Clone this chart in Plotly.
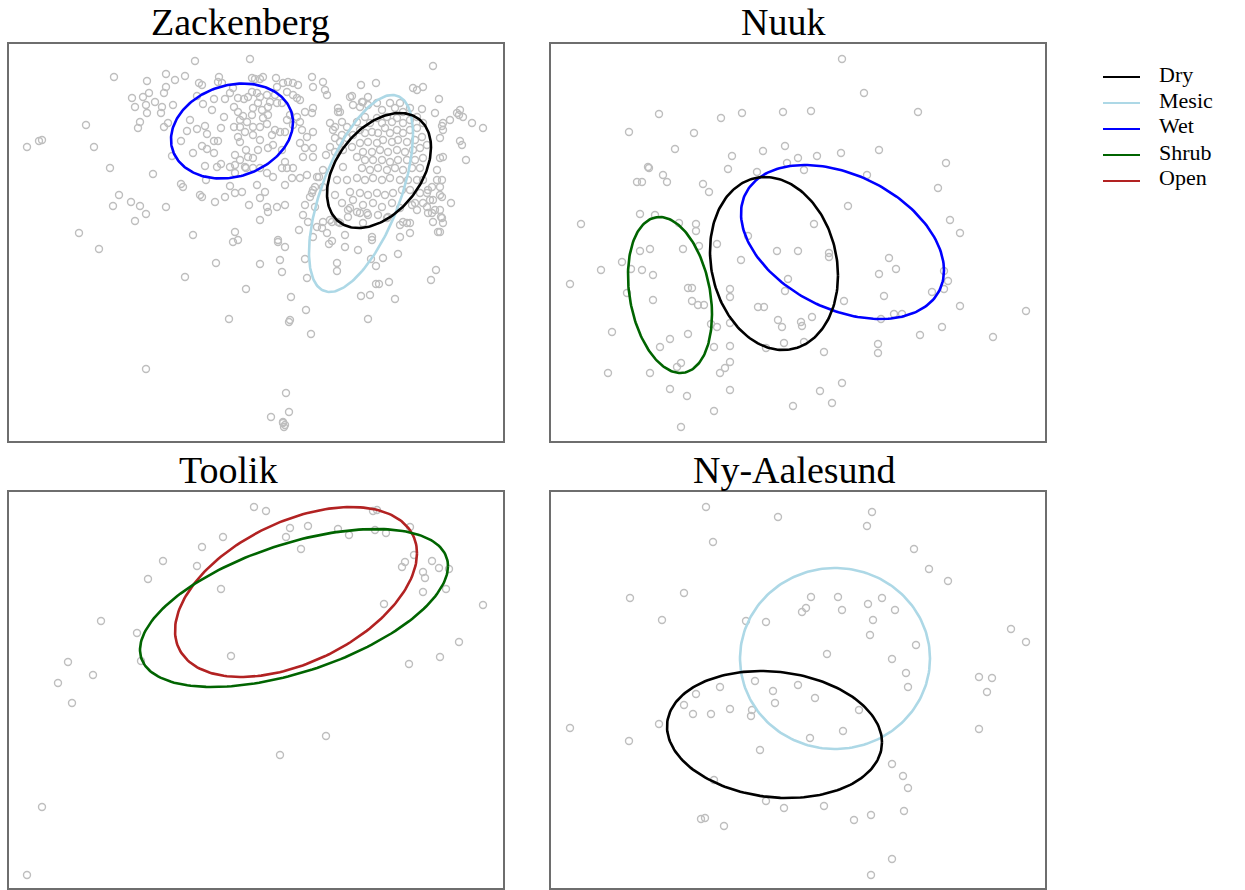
import numpy as np
import plotly.graph_objects as go

# ---------------------------------------------------------------------------
# NMDS site scores (NMDS1, NMDS2) for each study area
# ---------------------------------------------------------------------------
zack_scores = [
    (-0.61, 1.81), (-0.06, 1.83), (-1.42, 1.65), (-0.90, 1.68), (-0.71, 1.66), (-0.81, 1.62),
    (-1.09, 1.61), (-0.57, 1.59), (-0.37, 1.65), (-0.38, 1.60), (-0.04, 1.64), (-0.90, 1.55),
    (-0.92, 1.49), (-1.07, 1.49), (-1.13, 1.45), (-1.24, 1.44), (-1.01, 1.40), (-1.21, 1.35),
    (-1.10, 1.37), (-0.94, 1.35), (-0.95, 1.29), (-0.83, 1.37), (-1.09, 1.29), (-1.70, 1.17),
    (-1.16, 1.20), (-1.18, 1.14), (-0.92, 1.15), (-0.88, 1.19), (-2.29, 0.95), (-2.17, 1.01),
    (-2.14, 1.02), (-1.62, 0.95), (-1.46, 0.74), (-1.03, 0.68), (-0.75, 0.58), (-0.73, 0.55),
    (-1.37, 0.47), (-1.43, 0.36), (-1.25, 0.40), (-1.16, 0.36), (-0.90, 0.35), (-1.10, 0.28),
    (-1.21, 0.21), (-0.56, 0.47), (-0.54, 0.45), (-0.41, 0.40), (-0.31, 0.45), (-0.14, 0.50),
    (-0.07, 0.37), (-0.26, 0.56), (-0.50, 0.62), (-1.77, 0.09), (-0.63, 0.07), (-0.21, 0.10),
    (-0.23, 0.00), (-0.84, 0.86),
    (-0.66, 1.22), (-0.69, 1.11), (-0.59, 1.13), (-0.51, 1.16), (-0.49, 1.08), (-0.75, 1.01),
    (-0.63, 0.89), (-0.54, 0.96), (-0.49, 0.93), (-0.42, 1.01), (-0.38, 1.01), (-0.42, 0.89),
    (-0.51, 0.76), (-0.39, 0.75), (-0.35, 0.78), (-0.21, 0.87), (-0.21, 0.69), (-0.10, 0.74),
    (-0.35, 1.14), (-0.32, 1.25), (-0.44, 1.32), (-0.53, 1.38), (-0.59, 1.46), (-0.42, 1.43),
    (-0.31, 1.43), (-0.22, 1.35), (-0.12, 1.43), (-0.08, 1.45), (-0.18, 1.30), (-0.13, 1.26),
    (-0.22, 1.15), (-0.16, 1.15), (-0.18, 1.05), (-0.16, 1.00), (-0.10, 0.92), (-0.08, 0.85),
    (-0.16, 1.22), (-0.09, 1.20), (-0.11, 1.10), (-0.03, 1.07), (-0.03, 1.15), (-0.04, 1.27),
    (-0.03, 1.34), (-0.18, 1.44), (-0.26, 1.49), (-0.04, 1.50), (0.01, 1.49), (0.02, 1.39),
    (0.06, 1.32), (0.07, 1.24), (0.04, 1.15), (0.04, 1.02), (0.02, 0.92), (-0.03, 0.84),
    (-0.16, 0.82), (-0.21, 0.77), (-0.26, 0.75), (-0.11, 0.75), (-0.03, 0.74), (0.04, 0.74),
    (-0.54, 1.57), (-0.34, 1.59), (-0.23, 1.54), (-0.21, 0.49),
    (0.20, 1.64), (0.07, 1.65), (0.04, 1.63), (-0.01, 1.63), (0.27, 1.59), (0.32, 1.60),
    (0.37, 1.59), (0.42, 1.57), (0.56, 1.65), (0.57, 1.55), (0.21, 1.55), (0.19, 1.47),
    (0.31, 1.50), (0.37, 1.47), (0.44, 1.42), (0.41, 1.44), (0.26, 1.39), (0.21, 1.39),
    (0.12, 1.35), (0.04, 1.45), (0.11, 1.47), (0.14, 1.40), (0.57, 1.34), (0.49, 1.30),
    (0.56, 1.29), (0.34, 1.27), (0.31, 1.22), (0.41, 1.25), (0.44, 1.20), (0.37, 1.17),
    (0.12, 1.27), (0.11, 1.18), (0.19, 1.12), (0.24, 1.10), (0.29, 1.10), (0.16, 1.07),
    (0.57, 1.10), (0.46, 1.12), (0.51, 1.05), (0.44, 0.99), (0.49, 0.94), (0.57, 0.94),
    (0.26, 0.92), (0.17, 0.97), (0.12, 0.94), (0.47, 0.85), (0.57, 0.85), (0.29, 0.80),
    (0.26, 0.74), (0.31, 0.74), (0.37, 0.74), (0.11, 0.69), (0.17, 0.65), (0.29, 0.57),
    (0.36, 0.64), (0.44, 0.64), (0.51, 0.67), (0.61, 0.65), (0.01, 0.57), (0.09, 0.50),
    (0.04, 0.44), (0.29, 0.37), (0.21, 0.35), (0.56, 0.49), (0.57, 0.52), (0.11, 0.35),
    (0.12, 0.30), (0.04, 0.22),
    (1.77, 1.76), (1.20, 1.59), (1.05, 1.57), (0.67, 1.60), (0.69, 1.52), (0.71, 1.47),
    (1.57, 1.54), (1.61, 1.52), (1.67, 1.55), (1.83, 1.43), (0.96, 1.46), (1.12, 1.45),
    (1.07, 1.40), (1.04, 1.35), (0.82, 1.34), (0.84, 1.30), (1.66, 1.33), (1.79, 1.29),
    (1.94, 1.22), (2.04, 1.32), (2.03, 1.27), (2.07, 1.25), (2.16, 1.19), (2.27, 1.14),
    (1.86, 1.16), (1.87, 1.12), (1.84, 1.04), (2.04, 1.01), (2.06, 0.97), (2.10, 0.82),
    (1.87, 0.85), (1.84, 0.84), (0.74, 1.19), (0.77, 1.12), (0.86, 1.07), (0.79, 1.04),
    (0.74, 0.95), (0.70, 0.87), (0.67, 0.72), (0.63, 0.65), (0.67, 0.55), (0.59, 0.55),
    (0.54, 0.45), (0.49, 0.37), (0.47, 0.27), (0.52, 0.20), (0.66, 0.14), (0.76, 0.20),
    (0.82, 0.20), (0.94, 0.34), (0.86, 0.39), (0.92, 0.25), (1.04, 0.29), (1.11, 0.29),
    (1.22, 0.27), (1.31, 0.24), (1.47, 0.20), (1.54, 0.19), (1.59, 0.39), (1.67, 0.39),
    (1.77, 0.42), (1.86, 0.45), (1.95, 0.39), (1.84, 0.32), (1.76, 0.29), (1.77, 0.20),
    (1.85, 0.25), (1.84, 0.10), (1.71, 0.35), (1.61, 0.32), (1.81, 0.62), (1.84, 0.55),
    (1.76, 0.55), (1.67, 0.62), (1.71, 0.49), (1.64, 0.49), (0.43, 0.12), (0.59, 0.35),
    (0.57, 0.05), (0.71, 0.09), (0.22, 0.02),
    (2.01, 1.29), (1.87, 1.19), (1.81, 0.72), (1.86, 0.62), (1.84, 0.47), (1.72, 0.52),
    (1.74, 0.42), (1.79, 0.32), (1.86, 0.24), (1.87, 0.19), (1.82, 0.10), (1.72, 0.29),
    (1.56, 0.37), (1.51, 0.19), (1.44, 0.17),
    (0.94, 1.45), (0.97, 1.37), (1.06, 1.40), (1.12, 1.37), (1.21, 1.39), (1.26, 1.32),
    (1.34, 1.39), (1.39, 1.34), (1.44, 1.39), (1.47, 1.30), (1.54, 1.34), (0.82, 1.30),
    (0.86, 1.20), (0.79, 1.15), (0.91, 1.15), (1.01, 1.20), (1.09, 1.25), (1.14, 1.19),
    (1.21, 1.24), (1.26, 1.19), (1.31, 1.25), (1.36, 1.20), (1.41, 1.24), (1.47, 1.19),
    (1.54, 1.22), (1.61, 1.25), (1.67, 1.19), (1.61, 1.14), (1.54, 1.12), (1.47, 1.09),
    (1.41, 1.12), (1.34, 1.09), (1.29, 1.14), (1.22, 1.09), (1.16, 1.10), (1.09, 1.09),
    (1.04, 1.12), (0.97, 1.07), (0.91, 1.04), (0.84, 1.00), (0.79, 0.90), (0.87, 0.92),
    (0.96, 0.95), (1.04, 0.99), (1.12, 1.00), (1.21, 0.99), (1.27, 1.02), (1.36, 1.00),
    (1.42, 1.02), (1.51, 1.00), (1.59, 1.02), (1.66, 1.05), (1.71, 0.97), (1.64, 0.94),
    (1.57, 0.92), (1.49, 0.90), (1.41, 0.92), (1.32, 0.90), (1.24, 0.92), (1.16, 0.90),
    (1.07, 0.90), (1.01, 0.85), (1.09, 0.82), (1.17, 0.82), (1.26, 0.82), (1.34, 0.80),
    (1.42, 0.82), (1.51, 0.82), (1.59, 0.82), (1.67, 0.84), (1.64, 0.74), (1.56, 0.74),
    (1.47, 0.72), (1.39, 0.74), (1.31, 0.72), (1.22, 0.74), (1.14, 0.72), (1.06, 0.74),
    (0.87, 0.75), (0.81, 0.62), (0.91, 0.62), (1.01, 0.64), (1.09, 0.62), (1.17, 0.64),
    (1.26, 0.62), (1.34, 0.64), (1.44, 0.62), (1.52, 0.62), (1.61, 0.62), (1.54, 0.52),
    (1.46, 0.52), (1.37, 0.49), (1.29, 0.47), (1.21, 0.49), (1.12, 0.47), (1.04, 0.49),
    (0.94, 0.50), (0.79, 0.47), (0.97, 0.42), (1.07, 0.37), (1.17, 0.39), (1.26, 0.35),
    (1.36, 0.39), (1.44, 0.34), (1.01, 0.30), (0.92, 0.32), (1.12, 0.27), (1.32, 0.25),
    (1.07, 0.19), (0.74, 0.22), (0.84, 0.19), (0.67, 0.20), (0.61, 0.15), (0.89, 0.07),
    (1.16, 0.05), (1.44, 0.05), (1.54, 0.09),
    (0.22, 0.00), (0.29, -0.05), (0.04, -0.22), (0.24, -0.18), (0.26, -0.30), (0.49, -0.17),
    (0.51, -0.36), (0.73, -0.02), (0.76, 0.01), (0.89, -0.05), (1.02, -0.08), (1.16, 0.02),
    (0.81, -0.21), (0.81, -0.29), (1.15, -0.17), (1.27, -0.16), (1.20, -0.24), (1.42, -0.12),
    (1.33, -0.40), (1.20, -0.42), (1.23, -0.42), (1.05, -0.54), (1.14, -0.53), (1.39, -0.57),
    (1.80, -0.28), (1.75, -0.38), (0.35, -0.55), (0.50, -0.68), (0.34, -0.78), (0.33, -0.80),
    (1.12, -0.77), (0.55, -0.92), (0.30, -1.51), (0.15, -1.75), (0.33, -1.70), (0.27, -1.81),
    (0.28, -1.85), (0.27, -1.80), (0.29, -1.83),
    (-1.57, -0.07), (-0.40, -0.21), (-0.71, -0.35), (-0.10, -0.47), (-0.27, -0.77),
    (-1.10, -1.27), (-0.18, 0.02),
]

nuuk_scores = [
    (-1.39, 1.28), (-0.77, 1.24), (-0.56, 1.29), (-0.15, 1.30), (-1.69, 1.10), (-1.04, 1.09),
    (-1.23, 0.93), (-0.13, 0.96), (-0.35, 0.91), (-0.66, 0.86), (0.00, 0.84), (-0.70, 0.73),
    (-1.50, 0.75), (-1.49, 0.74), (-1.35, 0.67), (-1.61, 0.60), (-1.56, 0.60), (-1.31, 0.60),
    (-0.95, 0.58), (-0.89, 0.50), (-0.41, 0.70), (-0.11, 0.79), (-1.58, 0.28), (-1.43, 0.27),
    (-1.19, 0.19), (-1.02, 0.18), (-1.02, 0.11), (-2.17, 0.18), (-0.99, -0.04), (-0.81, -0.02),
    (-1.15, -0.07), (-1.58, -0.09), (-1.48, -0.07), (-0.50, 0.06), (-0.21, -0.09), (0.00, -0.09),
    (-0.57, -0.18), (-1.76, -0.20), (-1.97, -0.28), (-1.67, -0.27), (-1.56, -0.28), (-1.45, -0.33),
    (-2.28, -0.42), (-0.10, -0.37), (-0.13, -0.49), (-1.71, -0.51), (-1.10, -0.46), (-1.06, -0.46),
    (-0.68, -0.47), (-0.68, -0.55), (-1.45, -0.58), (-1.06, -0.59), (-1.00, -0.63), (-0.94, -0.63),
    (-0.40, -0.65), (-0.34, -0.65), (-0.20, -0.78), (-0.16, -0.85), (-0.68, -0.81), (-0.87, -0.82),
    (-0.81, -0.85), (-1.86, -0.90), (-1.10, -0.92), (-1.28, -0.97), (-1.38, -1.05), (-0.84, -1.05),
    (-0.68, -1.04), (-0.14, -1.01), (-0.32, -1.06), (-1.17, -1.21), (-1.21, -1.25), (-0.68, -1.20),
    (-0.73, -1.26), (-0.78, -1.31), (-1.90, -1.31), (-1.48, -1.31), (-1.28, -1.47), (-1.11, -1.54),
    (-0.68, -1.48), (-0.84, -1.69), (-0.05, -1.64), (-1.17, -1.85),
    (0.44, 1.83), (0.66, 1.49), (0.13, 1.31), (1.20, 1.30), (0.81, 0.92), (0.43, 0.89),
    (0.19, 0.86), (0.06, 0.72), (1.48, 0.79), (0.69, 0.67), (1.40, 0.54), (0.50, 0.36),
    (1.52, 0.22), (1.62, 0.09), (0.16, 0.18), (0.31, -0.11), (0.31, -0.15), (0.91, -0.16),
    (0.98, -0.27), (0.81, -0.32), (1.46, -0.29), (1.50, -0.39), (1.46, -0.47), (1.34, -0.50),
    (0.86, -0.54), (0.46, -0.59), (1.62, -0.64), (2.28, -0.69), (0.96, -0.72), (1.04, -0.72),
    (0.83, -0.77), (0.14, -0.75), (0.03, -0.80), (0.04, -0.84), (1.44, -0.85), (1.22, -0.93),
    (1.95, -0.95), (0.80, -1.02), (0.80, -1.11), (0.06, -1.00), (0.26, -1.10), (0.44, -1.41),
    (0.22, -1.49), (0.34, -1.61),
]

toolik_scores = [
    (-0.02, 1.83), (0.10, 1.79), (0.34, 1.62), (0.52, 1.64), (0.30, 1.53), (0.45, 1.41),
    (0.82, 1.61), (0.93, 1.55), (1.17, 1.79), (1.21, 1.80), (1.19, 1.60), (1.30, 1.57),
    (1.54, 1.63), (1.58, 1.35), (1.49, 1.28), (1.46, 1.23), (1.76, 1.29), (1.67, 1.18),
    (1.69, 1.12), (1.83, 1.22), (1.93, 1.21), (1.90, 1.01), (1.67, 0.98), (1.28, 0.86),
    (2.27, 0.85), (2.03, 0.48), (1.84, 0.33), (1.53, 0.26), (-0.33, 1.53), (-0.54, 1.43),
    (-0.59, 1.24), (-0.93, 1.29), (-1.08, 1.11), (-0.35, 1.01), (-1.55, 0.69), (-1.19, 0.57),
    (-1.15, 0.29), (-0.25, 0.34), (-1.88, 0.28), (-1.63, 0.15), (-1.98, 0.07), (-1.84, -0.13),
    (0.70, -0.46), (0.24, -0.65), (-2.14, -1.17), (-2.29, -1.85),
]

ny_scores = [
    (-0.92, 1.83), (-0.20, 1.73), (0.74, 1.78), (0.69, 1.64), (-0.85, 1.48), (1.16, 1.41),
    (1.31, 1.21), (1.50, 1.09), (-1.68, 0.92), (-1.14, 0.97), (-1.36, 0.70), (0.13, 0.93),
    (0.40, 0.93), (0.84, 0.92), (0.08, 0.82), (0.04, 0.78), (0.44, 0.80), (0.70, 0.86),
    (0.97, 0.80), (-0.52, 0.69), (-0.32, 0.68), (0.75, 0.70), (0.72, 0.55), (1.18, 0.45),
    (2.13, 0.61), (2.28, 0.48), (0.29, 0.36), (0.94, 0.31), (1.08, 0.17), (1.10, 0.03),
    (1.81, 0.13), (1.94, 0.12), (1.89, -0.02), (1.81, -0.39), (-0.43, 0.09), (-0.78, 0.03),
    (-1.02, -0.04), (-0.25, -0.01), (0.00, 0.05), (0.17, -0.08), (-0.23, -0.13), (-1.14, -0.15),
    (-1.05, -0.24), (-0.87, -0.24), (-0.68, -0.19), (-0.46, -0.20), (-0.47, -0.26), (0.61, -0.20),
    (-1.39, -0.34), (-2.28, -0.38), (-1.69, -0.51), (0.45, -0.41), (0.12, -0.48), (-0.38, -0.60),
    (0.94, -0.74), (1.05, -0.86), (1.10, -0.98), (-0.84, -0.90), (-0.32, -1.11), (-0.14, -1.18),
    (0.26, -1.16), (0.73, -1.25), (0.56, -1.30), (1.06, -1.21), (-0.97, -1.29), (-0.93, -1.28),
    (-0.74, -1.36), (0.94, -1.69), (0.73, -1.85),
]

# Habitat ellipses: (habitat, centre NMDS1, centre NMDS2, spread NMDS1, spread NMDS2, correlation)
zack_ellipses = [
    ("Wet", -0.24, 1.11, 0.61, 0.475, 0.18),
    ("Mesic", 1.05, 0.485, 0.52, 0.985, 0.60),
    ("Dry", 1.23, 0.715, 0.52, 0.575, 0.40),
]
nuuk_ellipses = [
    ("Shrub", -1.28, -0.53, 0.42, 0.78, -0.25),
    ("Wet", 0.445, 0.00, 1.015, 0.77, -0.37),
    ("Dry", -0.24, -0.215, 0.64, 0.865, -0.14),
]
toolik_ellipses = [
    ("Open", 0.40, 0.98, 1.21, 0.85, 0.455),
    ("Shrub", 0.38, 0.82, 1.54, 0.79, 0.53),
]
ny_ellipses = [
    ("Mesic", 0.37, 0.315, 0.95, 0.905, 0.0),
    ("Dry", -0.235, -0.445, 1.075, 0.635, -0.125),
]

habitats = ["Dry", "Mesic", "Wet", "Shrub", "Open"]
habitat_colors = {
    "Dry": "#000000",
    "Mesic": "#ADD8E6",
    "Wet": "#0000FF",
    "Shrub": "#006400",
    "Open": "#B22222",
}

site_titles = ["Zackenberg", "Nuuk", "Toolik", "Ny-Aalesund"]
site_scores = [zack_scores, nuuk_scores, toolik_scores, ny_scores]
site_ellipses = [zack_ellipses, nuuk_ellipses, toolik_ellipses, ny_ellipses]

# ---------------------------------------------------------------------------
# Layout geometry
# ---------------------------------------------------------------------------
W, H = 1245, 890
col_px = [(9, 503), (551, 1045)]
row_px = [(44, 441), (492, 888)]
title_x_px = [240, 783, 228, 794]
title_y_px = [22, 470]
x_ranges = [(-2.47, 2.47)] * 4
y_ranges = [(-1.99, 1.98), (-1.99, 1.98), (-1.98, 1.98), (-1.98, 1.98)]

FONT = "Liberation Serif, Times New Roman, serif"
POINT_COLOR = "#BEBEBE"
FRAME_COLOR = "#6E6E6E"


def ellipse_path(cx, cy, sx, sy, rho, n=200):
    t = np.linspace(0, 2 * np.pi, n)
    d = np.arccos(rho)
    return cx + sx * np.cos(t), cy + sy * np.cos(t + d)


fig = go.Figure()
layout_axes = {}
annotations = []

for i, (title, scores, ells) in enumerate(zip(site_titles, site_scores, site_ellipses)):
    r, c = divmod(i, 2)
    suffix = "" if i == 0 else str(i + 1)
    xa, ya = "x" + suffix, "y" + suffix

    x0p, x1p = col_px[c]
    y0p, y1p = row_px[r]
    layout_axes["xaxis" + suffix] = dict(
        domain=[x0p / W, x1p / W], range=list(x_ranges[i]), anchor=ya,
        showgrid=False, zeroline=False, showticklabels=False, ticks="",
        showline=True, mirror=True, linecolor=FRAME_COLOR, linewidth=2,
    )
    layout_axes["yaxis" + suffix] = dict(
        domain=[1 - y1p / H, 1 - y0p / H], range=list(y_ranges[i]), anchor=xa,
        showgrid=False, zeroline=False, showticklabels=False, ticks="",
        showline=True, mirror=True, linecolor=FRAME_COLOR, linewidth=2,
    )

    xs = [p[0] for p in scores]
    ys = [p[1] for p in scores]
    fig.add_trace(go.Scatter(
        x=xs, y=ys, mode="markers", xaxis=xa, yaxis=ya, showlegend=False,
        marker=dict(symbol="circle-open", size=7, color=POINT_COLOR,
                    line=dict(width=1.4, color=POINT_COLOR)),
        hoverinfo="skip",
    ))

    for hab, cx, cy, sx, sy, rho in ells:
        ex, ey = ellipse_path(cx, cy, sx, sy, rho)
        fig.add_trace(go.Scatter(
            x=ex, y=ey, mode="lines", xaxis=xa, yaxis=ya, showlegend=False,
            line=dict(color=habitat_colors[hab], width=2.6), name=hab,
            hoverinfo="skip",
        ))

    annotations.append(dict(
        text=title, xref="paper", yref="paper",
        x=title_x_px[i] / W, y=1 - title_y_px[r] / H,
        xanchor="center", yanchor="middle", showarrow=False,
        font=dict(family=FONT, size=38, color="#000000"),
    ))

# Habitat key drawn at the right-hand side
shapes = []
key_line_x = (1103, 1140)
key_text_x = 1158
key_y0, key_dy = 77, 26
for k, hab in enumerate(habitats):
    yy = key_y0 + k * key_dy
    shapes.append(dict(
        type="line", xref="paper", yref="paper",
        x0=key_line_x[0] / W, x1=key_line_x[1] / W,
        y0=1 - yy / H, y1=1 - yy / H,
        line=dict(color=habitat_colors[hab], width=2),
    ))
    annotations.append(dict(
        text=hab, xref="paper", yref="paper",
        x=key_text_x / W, y=1 - (yy - 3) / H,
        xanchor="left", yanchor="middle", showarrow=False,
        borderpad=0,
        font=dict(family=FONT, size=22, color="#000000"),
    ))

fig.update_layout(
    width=W, height=H,
    margin=dict(l=0, r=0, t=0, b=0),
    paper_bgcolor="white", plot_bgcolor="white",
    showlegend=False,
    annotations=annotations,
    shapes=shapes,
    **layout_axes,
)

fig.write_html("out.html")
